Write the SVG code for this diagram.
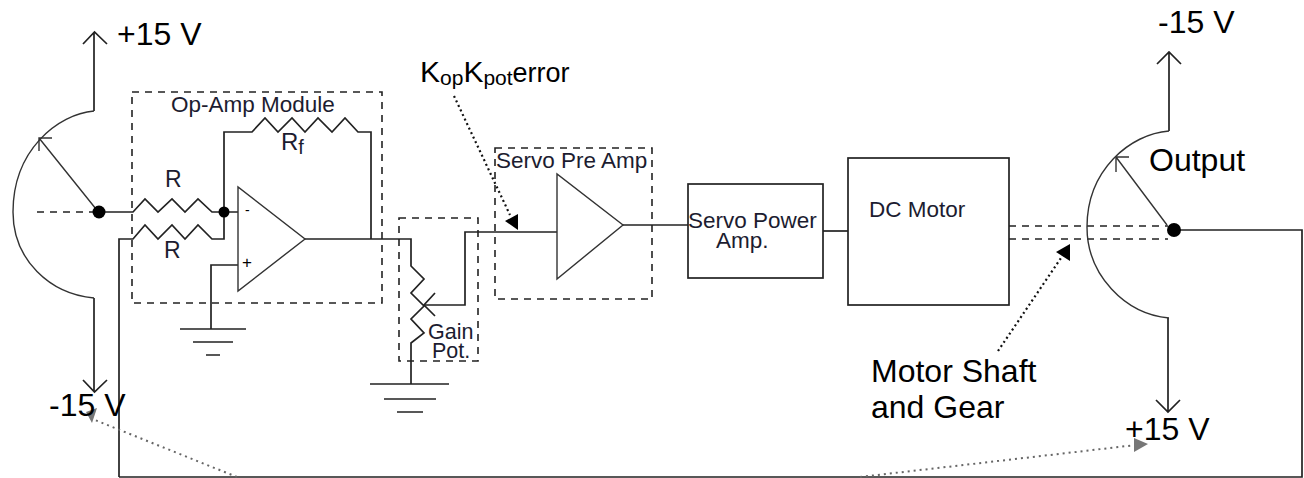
<svg xmlns="http://www.w3.org/2000/svg" width="1304" height="478" viewBox="0 0 1304 478">
<style>
text{font-family:"Liberation Sans",Arial,sans-serif;fill:#000}
.big{font-size:32px}
.lab{font-size:22.500px;fill:#1c1c30}
.w{fill:none;stroke:#222;stroke-width:1.7}
.t{fill:none;stroke:#333;stroke-width:1.4}
.box{fill:none;stroke:#222;stroke-width:1.7}
.dash{fill:none;stroke:#222;stroke-width:1.6;stroke-dasharray:7 6}
.dot{fill:#000}
.bl{fill:none;stroke:#111;stroke-width:2.2;stroke-dasharray:2 3}
.gr{fill:none;stroke:#666;stroke-width:2;stroke-dasharray:2 4}
</style>
<g id="connectors">
<path class="w" d="M94 111V32M83 44L94.500 32L107 44"/>
<path class="w" d="M94 298V392M83 380L94.500 392L107 380"/>
<path class="t" d="M94 111C58 114 13 150 13 212C13 260 50 294 94 298"/>
<path class="t" d="M96 209L39 138M39 151V138H52"/>
<path class="dash" d="M37 212H98"/>
<path class="w" d="M99 212H133L145 199L158 212L172 199L185 212L198 199L212 212H238"/>
<path class="w" d="M224 212V132H252L265 118L278 132L292 118L305 132L318 118L332 132L345 118L358 132H371V239"/>
<path class="w" d="M119 477V239H133L145 225L158 239L172 225L185 239L198 225L212 239H224V212"/>
<path class="w" d="M211 329V265H238"/>
<path class="w" d="M305 239H411V266L424 279L411 293L424 306L411 319L424 333L411 343V384"/>
<path class="w" d="M424 305H465V232H557"/>
<path class="w" d="M435 293L424 305L435 316"/>
<path class="w" d="M623 225H688"/>
<path class="w" d="M823 231H848"/>
<path class="dash" d="M1009 226H1168M1009 239H1168"/>
<path class="w" d="M1169 131V52M1157 64L1169 52L1181 64"/>
<path class="w" d="M1168 318V412M1156 400L1168 412L1180 400"/>
<path class="t" d="M1169 131C1130 134 1087 170 1087 227C1087 275 1125 314 1169 318"/>
<path class="t" d="M1167 225L1116 157M1116 172V157H1129"/>
<path class="w" d="M1174 230H1302V477H119"/>
<path class="bl" d="M454 96L510 215"/>
<polygon points="505,221 518,214 518,230" fill="#000"/>
<path class="bl" d="M998 351L1063 255"/>
<polygon points="1070,244 1056,252 1070,261" fill="#000"/>
<path class="gr" d="M237 477L90 418"/>
<polygon points="97,408 86,412 92,423" fill="#777"/>
<path class="gr" d="M860 477L1136 445"/>
<polygon points="1134,438 1148,444 1134,452" fill="#777"/>
</g>
<g id="input-pot"><circle class="dot" cx="99" cy="212" r="6.500"/><text class="big" x="117" y="45">+15 V</text><text class="big" x="49" y="416">-15 V</text></g>
<g id="summing-junction"><circle class="dot" cx="224" cy="212" r="5.500"/></g>
<g id="op-amp-module">
<rect class="dash" x="132" y="92" width="250" height="211"/>
<text class="lab" x="171" y="112">Op-Amp Module</text>
<text class="lab" x="165" y="187" style="font-size:23px">R</text>
<text class="lab" x="164" y="258" style="font-size:23px">R</text>
<text class="lab" x="281" y="150" style="font-size:24px">R<tspan style="font-size:20px" dy="4">f</tspan></text>
<polygon class="t" points="238,187 238,291 305,239"/>
<text x="245" y="215" style="font-size:14px">-</text>
<text x="242" y="268" style="font-size:17px">+</text>
</g>
<g id="ground-1"><path class="w" d="M180 329H246M193 342H233M206 355H220"/></g>
<g id="gain-pot">
<rect class="dash" x="399" y="218" width="79" height="143"/>
<text class="lab" x="428" y="339" style="font-size:21.500px">Gain</text>
<text class="lab" x="432" y="358" style="font-size:21.500px">Pot.</text>
</g>
<g id="ground-2"><path class="w" d="M370 384H449M384 399H436M397 412H423"/></g>
<g id="signal-label"><text x="420" y="82" style="font-size:30px">K<tspan style="font-size:21px" dy="3">op</tspan><tspan dy="-3">K</tspan><tspan style="font-size:21px" dy="3">pot</tspan><tspan style="font-size:27px" dy="-3">error</tspan></text></g>
<g id="servo-pre-amp">
<rect class="dash" x="495" y="148" width="157" height="151"/>
<text class="lab" x="496" y="168">Servo Pre Amp</text>
<polygon class="t" points="557,174 557,279 623,225"/>
</g>
<g id="servo-power-amp">
<rect class="box" x="688" y="184" width="135" height="94"/>
<text class="lab" x="688" y="228">Servo Power</text>
<text class="lab" x="716" y="248">Amp.</text>
</g>
<g id="dc-motor">
<rect class="box" x="848" y="158" width="161" height="147"/>
<text class="lab" x="869" y="217">DC Motor</text>
</g>
<g id="output-pot"><circle class="dot" cx="1174" cy="230" r="7"/>
<text class="big" x="1158" y="33">-15 V</text>
<text class="big" x="1149" y="171">Output</text>
<text class="big" x="1125" y="440">+15 V</text>
</g>
<g id="shaft-label"><text class="big" x="871" y="382">Motor Shaft</text><text class="big" x="871" y="418">and Gear</text></g>
</svg>
